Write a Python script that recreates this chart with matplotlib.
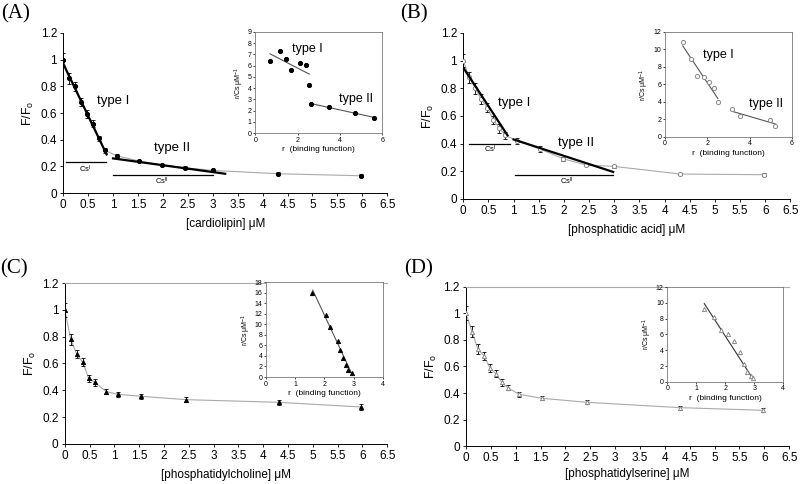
import matplotlib.pyplot as plt
import numpy as np

plt.rcParams['font.family'] = ['Liberation Sans', 'DejaVu Sans']
plt.rcParams['mathtext.fontset'] = 'custom'
plt.rcParams['mathtext.rm'] = 'Liberation Sans'
plt.rcParams['mathtext.it'] = 'Liberation Sans:italic'

# --- data ---
# (A) cardiolipin
a_x = [0, 0.12, 0.24, 0.36, 0.48, 0.6, 0.72, 0.84, 1.07, 1.53, 1.99, 2.44, 3.0, 4.31, 5.98]
a_y = [1.0, 0.86, 0.80, 0.68, 0.59, 0.52, 0.41, 0.32, 0.28, 0.24, 0.21, 0.19, 0.17, 0.145, 0.13]
a_err = [0.05, 0.04, 0.035, 0.03, 0.03, 0.025, 0.02, 0.02, 0.015, 0.01, 0.01, 0.01, 0.01, 0.01, 0.01]
a_fit1_x, a_fit1_y = [0, 0.87], [0.97, 0.29]
a_fit2_x, a_fit2_y = [1.0, 3.25], [0.26, 0.145]
a_in_x = [0.7, 1.15, 1.45, 1.7, 2.1, 2.4, 2.55, 2.65, 3.5, 4.7, 5.6]
a_in_y = [6.45, 7.3, 6.55, 5.65, 6.25, 6.1, 4.25, 2.55, 2.35, 1.8, 1.35]
a_in_fit1_x, a_in_fit1_y = [0.7, 2.55], [7.05, 5.25]
a_in_fit2_x, a_in_fit2_y = [2.7, 5.6], [2.6, 1.4]

# (B) phosphatidic acid
b_x = [0, 0.12, 0.24, 0.36, 0.48, 0.6, 0.72, 0.84, 1.07, 1.53, 1.99, 2.44, 3.0, 4.31, 5.98]
b_y = [1.0, 0.88, 0.80, 0.72, 0.66, 0.57, 0.51, 0.46, 0.42, 0.36, 0.29, 0.245, 0.235, 0.18, 0.175]
b_err = [0.05, 0.04, 0.04, 0.035, 0.03, 0.03, 0.03, 0.025, 0.02, 0.02, 0.015, 0.01, 0.01, 0.01, 0.01]
b_fit1_x, b_fit1_y = [0, 0.88], [0.95, 0.46]
b_fit2_x, b_fit2_y = [1.0, 2.98], [0.43, 0.195]
b_in_x = [0.85, 1.25, 1.5, 1.85, 2.1, 2.3, 2.5, 3.15, 3.55, 4.95, 5.2]
b_in_y = [10.8, 8.95, 7.0, 6.8, 6.3, 5.55, 3.95, 3.15, 2.4, 1.9, 1.25]
b_in_fit1_x, b_in_fit1_y = [0.85, 2.5], [10.4, 4.4]
b_in_fit2_x, b_in_fit2_y = [3.15, 5.2], [2.95, 1.5]

# (C) phosphatidylcholine
c_x = [0, 0.12, 0.24, 0.36, 0.48, 0.6, 0.84, 1.07, 1.53, 2.44, 4.31, 5.98]
c_y = [1.0, 0.78, 0.67, 0.61, 0.49, 0.46, 0.39, 0.37, 0.355, 0.33, 0.31, 0.275]
c_err = [0.05, 0.04, 0.03, 0.03, 0.025, 0.025, 0.02, 0.02, 0.02, 0.02, 0.02, 0.02]
c_in_x = [1.58, 2.07, 2.2, 2.45, 2.55, 2.62, 2.75, 2.8, 2.95]
c_in_y = [15.9, 11.8, 9.5, 6.8, 5.2, 3.7, 2.3, 1.3, 0.8]
c_in_fit_x, c_in_fit_y = [1.6, 2.95], [16.5, 0.5]

# (D) phosphatidylserine
d_x = [0, 0.12, 0.24, 0.36, 0.48, 0.6, 0.72, 0.84, 1.07, 1.53, 2.44, 4.31, 5.98]
d_y = [1.0, 0.86, 0.73, 0.68, 0.59, 0.545, 0.48, 0.44, 0.39, 0.36, 0.33, 0.29, 0.27]
d_err = [0.05, 0.04, 0.035, 0.03, 0.03, 0.025, 0.025, 0.02, 0.02, 0.015, 0.015, 0.015, 0.015]
d_in_x = [1.27, 1.6, 1.85, 2.1, 2.3, 2.5, 2.65, 2.75, 2.9, 2.97]
d_in_y = [9.25, 8.2, 6.5, 6.0, 5.15, 3.8, 2.3, 1.3, 0.7, 0.5]
d_in_fit_x, d_in_fit_y = [1.28, 2.97], [9.9, 0.3]

fig = plt.figure(figsize=(8, 4.84), dpi=100)

def main_axes(rect, x, y, err, xlabel, marker, mfc, mec, top=False, xpad=5):
    ax = fig.add_axes(rect)
    ax.plot(x, y, color='#aaaaaa', lw=0.8, zorder=2)
    ax.errorbar(x, y, yerr=err, fmt='none', ecolor='black', elinewidth=0.6,
                capsize=1.5, capthick=0.6, zorder=3)
    ax.plot(x, y, linestyle='none', marker=marker, ms=3.0, mfc=mfc, mec=mec,
            mew=0.7, zorder=4)
    ax.set_xlim(0, 6.5)
    ax.set_ylim(0, 1.2)
    ax.set_xticks(np.arange(0, 6.51, 0.5))
    ax.set_xticklabels(['0'] + ['%g' % v for v in np.arange(0.5, 6.51, 0.5)])
    ax.set_yticks(np.arange(0, 1.21, 0.2))
    ax.set_yticklabels(['0', '0.2', '0.4', '0.6', '0.8', '1', '1.2'])
    ax.tick_params(labelsize=8.5, length=2.5, width=0.6, direction='out', pad=2)
    ax.spines['right'].set_visible(False)
    if top:
        ax.spines['top'].set_color('#aaaaaa')
        ax.spines['top'].set_linewidth(0.8)
    else:
        ax.spines['top'].set_visible(False)
    for s in ['left', 'bottom']:
        ax.spines[s].set_linewidth(0.7)
    ax.set_xlabel(xlabel, fontsize=8.5, labelpad=xpad)
    ax.set_ylabel('F/F$_\\mathrm{o}$', fontsize=9, labelpad=3)
    return ax

def inset_axes(rect, x, y, xmax, xticks, ymax, yticks, marker, mfc, mec):
    ax = fig.add_axes(rect)
    ax.plot(x, y, linestyle='none', marker=marker, ms=3, mfc=mfc, mec=mec, mew=0.7, zorder=3)
    ax.set_xlim(0, xmax)
    ax.set_ylim(0, ymax)
    ax.set_xticks(xticks)
    ax.set_yticks(yticks)
    ax.tick_params(labelsize=5, length=1.5, width=0.5, pad=1)
    for s in ax.spines.values():
        s.set_color('#777777')
        s.set_linewidth(0.6)
    ax.set_xlabel('r  (binding function)', fontsize=6, labelpad=2)
    ax.set_ylabel('r/Cs μM$^{-1}$', fontsize=5, labelpad=1.5)
    return ax

# ---------------- (A) ----------------
axA = main_axes([0.079, 0.601, 0.405, 0.331], a_x, a_y, a_err, '[cardiolipin] μM',
                'o', 'black', 'black')
axA.plot(a_fit1_x, a_fit1_y, color='black', lw=1.6, zorder=5)
axA.plot(a_fit2_x, a_fit2_y, color='black', lw=1.6, zorder=5)
axA.plot([0.05, 0.85], [0.23, 0.23], color='black', lw=0.9)
axA.plot([1.0, 3.0], [0.135, 0.135], color='black', lw=0.9)
axA.text(0.45, 0.18, 'Cs$^\\mathrm{I}$', fontsize=5.5, ha='center', va='center')
axA.text(1.98, 0.085, 'Cs$^\\mathrm{II}$', fontsize=5.5, ha='center', va='center')
axA.text(0.68, 0.69, 'type I', fontsize=9.5, ha='left', va='center')
axA.text(1.83, 0.34, 'type II', fontsize=9.5, ha='left', va='center')

iA = inset_axes([0.319, 0.725, 0.159, 0.209], a_in_x, a_in_y, 6, [0, 2, 4, 6],
                9, range(0, 10), 'o', 'black', 'black')
iA.plot(a_in_fit1_x, a_in_fit1_y, color='#555555', lw=0.8)
iA.plot(a_in_fit2_x, a_in_fit2_y, color='#555555', lw=0.8)
iA.text(1.74, 7.5, 'type I', fontsize=9, ha='left', va='center')
iA.text(3.95, 3.05, 'type II', fontsize=9, ha='left', va='center')

# ---------------- (B) ----------------
axB = main_axes([0.579, 0.589, 0.409, 0.343], b_x, b_y, b_err, '[phosphatidic acid] μM',
                'o', 'white', '#888888')
axB.plot(b_fit1_x, b_fit1_y, color='black', lw=1.6, zorder=5)
axB.plot(b_fit2_x, b_fit2_y, color='black', lw=1.6, zorder=5)
axB.plot([0.12, 0.93], [0.395, 0.395], color='black', lw=0.9)
axB.plot([1.03, 2.97], [0.175, 0.175], color='black', lw=0.9)
axB.text(0.54, 0.357, 'Cs$^\\mathrm{I}$', fontsize=5.5, ha='center', va='center')
axB.text(2.05, 0.128, 'Cs$^\\mathrm{II}$', fontsize=5.5, ha='center', va='center')
axB.text(0.69, 0.69, 'type I', fontsize=9.5, ha='left', va='center')
axB.text(1.88, 0.405, 'type II', fontsize=9.5, ha='left', va='center')

iB = inset_axes([0.831, 0.717, 0.159, 0.217], b_in_x, b_in_y, 6, [0, 2, 4, 6],
                12, range(0, 13, 2), 'o', 'white', '#888888')
iB.plot(b_in_fit1_x, b_in_fit1_y, color='#555555', lw=0.8)
iB.plot(b_in_fit2_x, b_in_fit2_y, color='#555555', lw=0.8)
iB.text(1.82, 9.4, 'type I', fontsize=9, ha='left', va='center')
iB.text(3.95, 3.8, 'type II', fontsize=9, ha='left', va='center')

# ---------------- (C) ----------------
axC = main_axes([0.081, 0.083, 0.403, 0.332], c_x, c_y, c_err, '[phosphatidylcholine] μM',
                '^', 'black', 'black', top=True)
iC = inset_axes([0.3325, 0.221, 0.146, 0.196], c_in_x, c_in_y, 4, [0, 1, 2, 3, 4],
                18, range(0, 19, 2), '^', 'black', 'black')
iC.plot(c_in_fit_x, c_in_fit_y, color='#555555', lw=0.8)

# ---------------- (D) ----------------
axD = main_axes([0.5825, 0.078, 0.404, 0.33], d_x, d_y, d_err, '[phosphatidylserine] μM',
                '^', 'white', '#888888', top=True, xpad=2.5)
iD = inset_axes([0.834, 0.211, 0.145, 0.196], d_in_x, d_in_y, 4, [0, 1, 2, 3, 4],
                12, range(0, 13, 2), '^', 'white', '#888888')
iD.plot(d_in_fit_x, d_in_fit_y, color='#333333', lw=0.8)

# panel letters
for lbl, xp, yp in [('(A)', 0.002, 0.972), ('(B)', 0.5, 0.972),
                    ('(C)', 0.0, 0.445), ('(D)', 0.505, 0.445)]:
    fig.text(xp, yp, lbl, fontsize=15, family='Liberation Serif', ha='left', va='center')

fig.savefig('out.png', dpi=100)
